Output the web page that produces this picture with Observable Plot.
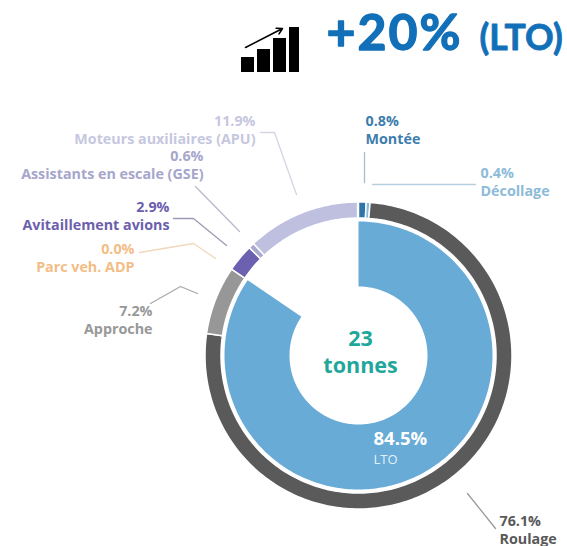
<!DOCTYPE html>
<html><head><meta charset="utf-8">
<script src="https://cdn.jsdelivr.net/npm/d3@7"></script>
<script src="https://cdn.jsdelivr.net/npm/@observablehq/plot@0.6"></script>
<style>html,body{margin:0;padding:0;background:#fff}svg{display:block}</style>
</head><body><div id="chart"></div>
<script>
// Data
const segmentNames = ["Montée","Décollage","Roulage","Approche","Parc veh. ADP","Avitaillement avions","Assistants en escale (GSE)","Moteurs auxiliaires (APU)"];
const segmentValues = [0.8,0.4,76.1,7.2,0.0,2.9,0.6,11.9];
const segmentColors = ["#2f75a6","#85bbdc","#5a5a5a","#979797","#f3bd86","#6c60b0","#a9a9cf","#bfc0e0"];
const ltoShare = 84.5;
const iconBars = [15,23,34,45];

// Layout (page pixels)
const W = 567, H = 546, cx = 358.5, cy = 355.5;
const rings = {outer:[137.5,153.5], inner:[69,134]};
const labelRows = [
  ["11.9%","Moteurs auxiliaires (APU)",255,145,"end","#c6c7e0"],
  ["0.6%","Assistants en escale (GSE)",203,180,"end","#a6a6cb"],
  ["2.9%","Avitaillement avions",169,231,"end","#6c60ae"],
  ["0.0%","Parc veh. ADP",134,273,"end","#f3bd86"],
  ["7.2%","Approche",152,335,"end","#989898"],
  ["0.8%","Montée",365,145,"start","#3d7dad"],
  ["0.4%","Décollage",480,197,"start","#8dbbd9"],
  ["76.1%","Roulage",499,545,"start","#595959"]
];
const leaders = [
  ["#d4d5e4",[[260,132],[274,132],[296,194]]],
  ["#b9bacb",[[195,186],[239,231]]],
  ["#9d9bb4",[[173,218],[193,218],[226,245]]],
  ["#f0d8bd",[[139,252],[193,243],[215,258]]],
  ["#aaaaaa",[[150,303],[180,286],[197,293]]],
  ["#a9bccb",[[364,152],[364,182]]],
  ["#b7d0e0",[[372,184],[475,184]]],
  ["#9a9a9a",[[467,493],[495,528]]]
];

function arcPoints(name, color, from, to, r0, r1){
  const a0 = from/100*2*Math.PI, a1 = to/100*2*Math.PI;
  const n = Math.max(2, Math.ceil((a1-a0)/0.02));
  return d3.range(n+1).map(i=>{
    const a = a0+(a1-a0)*i/n, s = Math.sin(a), c = Math.cos(a);
    return {name,color,x1:cx+r0*s,y1:cy-r0*c,x2:cx+r1*s,y2:cy-r1*c};
  });
}
let cum = 0;
const outerPts = segmentValues.flatMap((v,i)=>{
  const from = cum; cum += v;
  return v>0 ? arcPoints(segmentNames[i],segmentColors[i],from,cum,...rings.outer) : [];
});
const innerPts = arcPoints("LTO","#67abd6",0,ltoShare,...rings.inner);

const barW = 13, barStep = 16, barX0 = 241, barBottom = 72;
const bars = iconBars.map((h,i)=>({x1:barX0+i*barStep,x2:barX0+i*barStep+(i==3?10:barW),y1:barBottom,y2:barBottom-h}));

const txt = (rows,o)=>Plot.text(rows,{x:"x",y:"y",text:"t",lineAnchor:"bottom",...o});
const F = "'Open Sans', sans-serif";
const labelTexts = labelRows.map(([a,b,x,y,anchor,color])=>({t:a+"\n"+b,x,y,anchor,color}));
const spaced = (i,s,v,d,c,next)=>{const g=next(i,s,v,d,c); g.style.letterSpacing="2px"; return g;};

const chart = Plot.plot({
  width:W,height:H,margin:0,
  x:{domain:[0,W],range:[0,W],axis:null},
  y:{domain:[0,H],range:[0,H],axis:null},
  color:{type:"identity"},
  marks:[
    Plot.area(innerPts,{x1:"x1",y1:"y1",x2:"x2",y2:"y2",z:"name",fill:"color"}),
    Plot.area(outerPts,{x1:"x1",y1:"y1",x2:"x2",y2:"y2",z:"name",fill:"color",stroke:"white",strokeWidth:1.5}),
    ...leaders.map(([color,pts])=>Plot.line(pts,{x:d=>d[0],y:d=>d[1],stroke:color,strokeWidth:1.3})),
    ...["end","start"].map(anchor=>Plot.text(labelTexts.filter(d=>d.anchor===anchor),{
      x:"x",y:"y",text:"t",fill:"color",textAnchor:anchor,lineAnchor:"bottom",lineHeight:1.2,
      fontFamily:F,fontWeight:"bold",fontSize:14.3,dy:-2})),
    txt([{t:"23\ntonnes",x:360,y:373}],{fill:"#1fa79b",fontFamily:F,fontWeight:"bold",fontSize:21.5,lineHeight:1.22,dy:-1}),
    txt([{t:"84.5%",x:373,y:446}],{fill:"white",textAnchor:"start",fontFamily:F,fontWeight:"bold",fontSize:18.5,dy:-1.5}),
    txt([{t:"LTO",x:373,y:464}],{fill:"#e4f0f8",textAnchor:"start",fontFamily:F,fontSize:13,dy:-1}),
    txt([{t:"+20%",x:326,y:49}],{fill:"#1170b8",stroke:"#1170b8",strokeWidth:1.3,textAnchor:"start",fontFamily:"Lato, sans-serif",fontWeight:"bold",fontSize:50,render:spaced}),
    txt([{t:"(LTO)",x:479,y:49}],{fill:"#1170b8",stroke:"#1170b8",strokeWidth:0.8,textAnchor:"start",fontFamily:"Lato, sans-serif",fontWeight:"bold",fontSize:35.5}),
    Plot.rect(bars,{x1:"x1",x2:"x2",y1:"y1",y2:"y2",fill:"black"}),
    Plot.arrow([{x1:245,y1:47,x2:282,y2:28}],{x1:"x1",y1:"y1",x2:"x2",y2:"y2",stroke:"black",strokeWidth:1.6,headLength:6})
  ]
});
document.getElementById("chart").append(chart);
</script></body></html>
